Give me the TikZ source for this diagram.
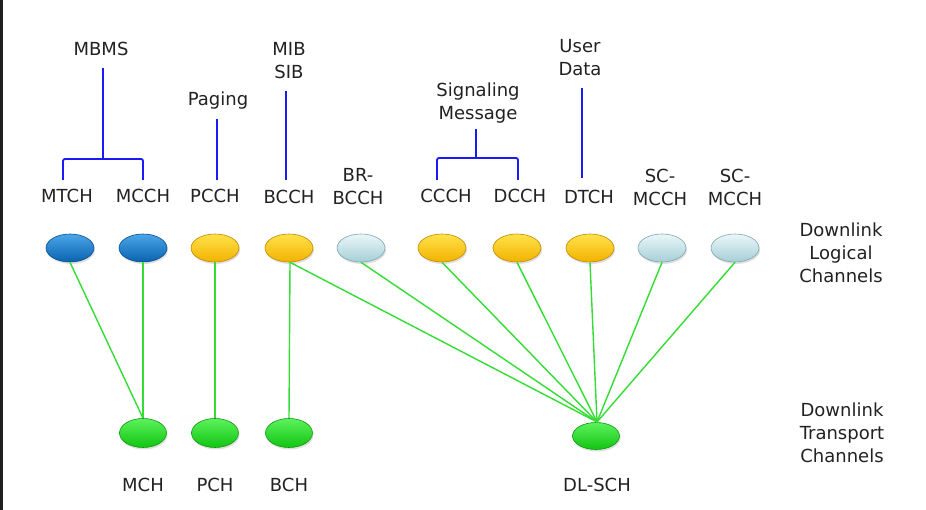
\documentclass[tikz,border=0pt]{standalone}
\usepackage{fontspec}
\setmainfont{DejaVu Sans}
\usetikzlibrary{shapes.geometric,shadows}
\definecolor{txt}{HTML}{222222}
\definecolor{bluel}{HTML}{1A1AF5}
\definecolor{greenl}{HTML}{33DD33}
\definecolor{bTop}{HTML}{4AA6E8}\definecolor{bBot}{HTML}{0A62AE}\definecolor{bEdge}{HTML}{08508E}
\definecolor{yTop}{HTML}{FFE24A}\definecolor{yBot}{HTML}{F2B200}\definecolor{yEdge}{HTML}{C08A00}
\definecolor{cTop}{HTML}{EAF8FA}\definecolor{cBot}{HTML}{A6CED6}\definecolor{cEdge}{HTML}{7FA6AE}
\definecolor{gTop}{HTML}{5CF25C}\definecolor{gBot}{HTML}{12C412}\definecolor{gEdge}{HTML}{0C9A0C}
\tikzset{
  lab/.style={font=\fontsize{18}{23}\selectfont, text=txt, align=center, inner sep=0pt},
  oval/.style={ellipse, minimum width=48pt, minimum height=28pt, inner sep=0pt, line width=0.6pt,
     drop shadow={shadow xshift=1pt, shadow yshift=-2pt, opacity=0.25}},
  blueov/.style={oval, draw=bEdge, top color=bTop, bottom color=bBot},
  yellowov/.style={oval, draw=yEdge, top color=yTop, bottom color=yBot},
  cyanov/.style={oval, draw=cEdge, top color=cTop, bottom color=cBot},
  greenov/.style={oval, draw=gEdge, top color=gTop, bottom color=gBot, minimum width=47pt, minimum height=29pt},
  gline/.style={draw=greenl, line width=1.4pt},
  bline/.style={draw=bluel, line width=1.8pt, rounded corners=2pt},
}
\begin{document}
\begin{tikzpicture}[x=1pt,y=-1pt]
\useasboundingbox (0,0) rectangle (926,510);
\fill[white] (0,0) rectangle (926,510);
\fill[black!88] (0,0) rectangle (2.5,510);

% logical channels
\node[blueov] (mtch) at (70,248) {};
\node[blueov] (mcch) at (143,248) {};
\node[yellowov] (pcch) at (215,248) {};
\node[yellowov] (bcch) at (289,248) {};
\node[cyanov] (brbcch) at (361,248) {};
\node[yellowov] (ccch) at (442,248) {};
\node[yellowov] (dcch) at (517,248) {};
\node[yellowov] (dtch) at (590,248) {};
\node[cyanov] (scA) at (662,248) {};
\node[cyanov] (scB) at (735,248) {};

% transport channels
\node[greenov] (mch) at (143,433) {};
\node[greenov] (pch) at (215,433) {};
\node[greenov] (bch) at (289,433) {};
\node[greenov, minimum height=27pt] (dlsch) at (596,436) {};

% labels of logical channels
\node[lab] (tMTCH) at (67,196) {MTCH};
\node[lab] (tMCCH) at (143,196) {MCCH};
\node[lab] (tPCCH) at (215,196) {PCCH};
\node[lab] (tBCCH) at (289,197) {BCCH};
\node[lab] (tBR) at (358,187) {BR-\\BCCH};
\node[lab] (tCCCH) at (446,196) {CCCH};
\node[lab] (tDCCH) at (520,196) {DCCH};
\node[lab] (tDTCH) at (589,197) {DTCH};
\node[lab] (tSCA) at (660,187) {SC-\\MCCH};
\node[lab] (tSCB) at (735,187) {SC-\\MCCH};
\node[lab] (tLog) at (841,253) {Downlink\\Logical\\Channels};

% labels of transport channels
\node[lab] (tMCH) at (143,485) {MCH};
\node[lab] (tPCH) at (215,485) {PCH};
\node[lab] (tBCH) at (289,485) {BCH};
\node[lab] (tDL) at (597,485) {DL-SCH};
\node[lab] (tTr) at (842,433) {Downlink\\Transport\\Channels};

% upper labels
\node[lab] (mbms) at (101,49) {MBMS};
\node[lab] (paging) at (218,101) {Paging};
\node[lab] (mib) at (289,61) {MIB\\SIB};
\node[lab] (sig) at (478,103) {Signaling\\Message};
\node[lab] (user) at (580,58) {User\\Data};

% blue connectors
\coordinate (mbA) at (103,68);
\coordinate (mbB) at (103,159);
\coordinate (mbL) at (63,180);
\coordinate (mbR) at (143,180);
\draw[bline] (mbA) -- (mbB);
\draw[bline] (mbL) |- (mbB) -| (mbR);
\coordinate (pgA) at (217,119);
\coordinate (pgB) at (217,180);
\draw[bline] (pgA) -- (pgB);
\coordinate (miA) at (286,91);
\coordinate (miB) at (286,180);
\draw[bline] (miA) -- (miB);
\coordinate (sgA) at (476,129);
\coordinate (sgB) at (476,158);
\coordinate (sgL) at (437,180);
\coordinate (sgR) at (518,180);
\draw[bline] (sgA) -- (sgB);
\draw[bline] (sgL) |- (sgB) -| (sgR);
\coordinate (udA) at (582,88);
\coordinate (udB) at (582,178);
\draw[bline] (udA) -- (udB);

% green connectors
\coordinate (dlTop) at (597,422);
\draw[gline] (mtch.south) -- (mch.north);
\draw[gline] (mcch.south) -- (mch.north);
\draw[gline] (pcch.south) -- (pch.north);
\draw[gline] ([xshift=1pt]bcch.south) -- (bch.north);
\draw[gline] ([xshift=1pt]bcch.south) -- (dlTop);
\draw[gline] (brbcch.south) -- (dlTop);
\draw[gline] (ccch.south) -- (dlTop);
\draw[gline] (dcch.south) -- (dlTop);
\draw[gline] (dtch.south) -- (dlTop);
\draw[gline] (scA.south) -- (dlTop);
\draw[gline] (scB.south) -- (dlTop);
\end{tikzpicture}
\end{document}
